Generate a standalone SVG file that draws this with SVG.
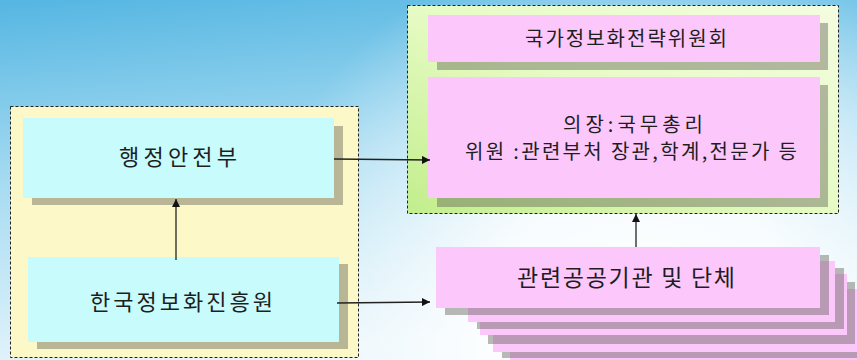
<svg xmlns="http://www.w3.org/2000/svg" width="857" height="360" viewBox="0 0 857 360">
<defs>
<linearGradient id="bgv" x1="0" y1="0" x2="0.2" y2="1">
<stop offset="0" stop-color="#55b6e2"/>
<stop offset="0.5" stop-color="#a8dcf2"/>
<stop offset="1" stop-color="#e4f4fb"/>
</linearGradient>
<radialGradient id="glow" cx="640" cy="330" r="400" gradientUnits="userSpaceOnUse">
<stop offset="0" stop-color="#ffffff" stop-opacity="1"/>
<stop offset="0.4" stop-color="#ffffff" stop-opacity="0.85"/>
<stop offset="1" stop-color="#ffffff" stop-opacity="0"/>
</radialGradient>
<linearGradient id="green" x1="0" y1="1" x2="1" y2="0">
<stop offset="0" stop-color="#c2ee8c"/>
<stop offset="0.5" stop-color="#e6fbc4"/>
<stop offset="1" stop-color="#f4fde0"/>
</linearGradient>
<marker id="ah" viewBox="0 0 10 10" refX="10" refY="5" markerWidth="8" markerHeight="8" markerUnits="userSpaceOnUse" orient="auto">
<path d="M0,0 L10,5 L0,10 z" fill="#111"/>
</marker>
</defs>
<style>
.cont{stroke:#222;stroke-width:1;stroke-dasharray:3,2}
.sh{fill:#5a5a50;fill-opacity:0.42}
.cyan{fill:#c8fcfc}
.pink{fill:#fcc8fc}
.t{font-family:"Noto Sans CJK KR","Noto Sans",sans-serif;fill:#1e1e1e;text-anchor:middle}
.conn{stroke:#222;stroke-width:1.3;fill:none;marker-end:url(#ah)}
</style>
<rect width="857" height="360" fill="url(#bgv)"/>
<rect width="857" height="360" fill="url(#glow)"/>

<g id="left-group">
<rect class="cont" x="10.5" y="106.5" width="348" height="251" fill="#fdf8c8"/>
</g>
<g id="right-group">
<rect class="cont" x="407.5" y="5.5" width="431" height="208" fill="url(#green)"/>
</g>

<g id="node-mois">
<rect class="sh" x="32" y="126" width="311" height="79"/>
<rect class="cyan" x="23" y="118" width="311" height="80"/>
<text class="t" x="178" y="165" font-size="22" textLength="118" lengthAdjust="spacing">행정안전부</text>
</g>
<g id="node-nia">
<rect class="sh" x="37" y="264" width="311" height="85"/>
<rect class="cyan" x="28" y="257" width="311" height="85"/>
<text class="t" x="181.5" y="310" font-size="22" textLength="183" lengthAdjust="spacing">한국정보화진흥원</text>
</g>

<g id="node-committee">
<rect class="sh" x="437" y="23" width="391" height="47"/>
<rect class="pink" x="428" y="15" width="392" height="47"/>
<text class="t" x="626" y="46" font-size="20" textLength="202" lengthAdjust="spacing">국가정보화전략위원회</text>
</g>
<g id="node-members">
<rect class="sh" x="437" y="85" width="391" height="122"/>
<rect class="pink" x="428" y="77" width="392" height="121"/>
<text class="t" x="633" y="132" font-size="20" textLength="140" lengthAdjust="spacing">의장:국무총리</text>
<text class="t" x="631" y="159" font-size="20" textLength="332" lengthAdjust="spacing">위원 :관련부처 장관,학계,전문가 등</text>
</g>

<g id="node-agencies">
<rect class="pink" x="510" y="305" width="367" height="62"/>
<rect class="sh" x="502" y="296" width="367" height="62"/>
<rect class="pink" x="493" y="289" width="367" height="63"/>
<rect class="sh" x="488" y="282" width="367" height="62"/>
<rect class="pink" x="480" y="274" width="367" height="61"/>
<rect class="sh" x="477" y="268" width="367" height="61"/>
<rect class="pink" x="468" y="261" width="367" height="61"/>
<rect class="sh" x="445" y="255" width="384" height="60"/>
<rect class="pink" x="436" y="247" width="384" height="61"/>
<text class="t" x="626" y="286" font-size="23" textLength="218" lengthAdjust="spacing">관련공공기관 및 단체</text>
</g>

<g id="connectors">
<line class="conn" x1="334" y1="159" x2="430" y2="160"/>
<line class="conn" x1="337" y1="303" x2="430" y2="302"/>
<line class="conn" x1="176" y1="260" x2="176" y2="199"/>
<line class="conn" x1="636" y1="247" x2="636" y2="214"/>
</g>
</svg>
